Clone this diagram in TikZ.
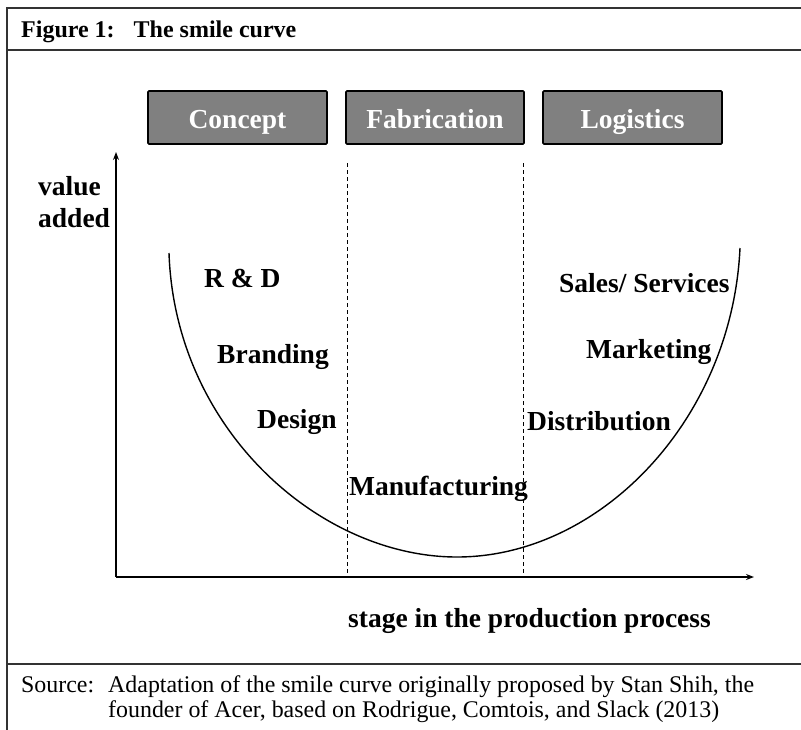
\documentclass[tikz,border=0pt]{standalone}
\usepackage{fontspec}
\setmainfont{Liberation Serif}
\usetikzlibrary{arrows.meta}
\begin{document}
\begin{tikzpicture}[x=1pt,y=-1pt,
  frameline/.style={draw=black!80,line width=1.2pt},
  stagebox/.style={draw=black,line width=1.6pt,fill=black!50,rounded corners=1pt},
  boxtext/.style={text=white,font=\fontsize{27.5}{30}\selectfont\bfseries,inner sep=0pt,anchor=base},
  lbl/.style={font=\fontsize{27.5}{30}\selectfont\bfseries,inner sep=0pt,anchor=base west},
  src/.style={font=\fontsize{23.9}{26}\selectfont,inner sep=0pt,anchor=base west},
  axisline/.style={line width=1.4pt,-{Stealth[length=8pt,width=6pt]}},
  divider/.style={dashed,dash pattern=on 4pt off 3pt,line width=0.8pt},
  smile/.style={line width=1.4pt}]
\useasboundingbox (0,0) rectangle (801,729);
% frame
\coordinate (ftl) at (7,8);
\coordinate (ftr) at (805,8);
\coordinate (fbl) at (7,733);
\coordinate (h1l) at (7,50);
\coordinate (h1r) at (805,50);
\coordinate (s1l) at (7,664);
\coordinate (s1r) at (805,664);
\draw[frameline] (ftr) -- (ftl) -- (fbl);
\draw[frameline] (h1l) -- (h1r);
\draw[frameline] (s1l) -- (s1r);
\node[lbl,font=\fontsize{24}{26}\selectfont\bfseries] (title) at (21,37) {Figure 1:\hspace{19pt}The smile curve};
% boxes
\draw[stagebox] (148,91) rectangle (327,144);
\draw[stagebox] (346,91) rectangle (524,144);
\draw[stagebox] (543,91) rectangle (722,144);
\node[boxtext] (concept) at (237.5,128) {Concept};
\node[boxtext] (fabrication) at (435,128) {Fabrication};
\node[boxtext] (logistics) at (632.5,128) {Logistics};
% axes
\coordinate (origin) at (116,577);
\coordinate (ytip) at (116,152);
\coordinate (xtip) at (754,577);
\draw[axisline] (origin) -- (ytip);
\draw[axisline] (origin) -- (xtip);
% dividers
\coordinate (d1t) at (347,163);
\coordinate (d1b) at (347,573);
\coordinate (d2t) at (523,163);
\coordinate (d2b) at (523,573);
\draw[divider] (d1t) -- (d1b);
\draw[divider] (d2t) -- (d2b);
% smile curve
\coordinate (cs) at (169,253);
\coordinate (cm) at (457,557);
\coordinate (ce) at (740,248);
\draw[smile] (cs) .. controls (175,430) and (320,557) .. (cm)
  .. controls (600,557) and (732,420) .. (ce);
% labels
\node[lbl] (yl1) at (38,195) {value};
\node[lbl] (yl2) at (38,227) {added};
\node[lbl] (rd) at (204,287) {R \& D};
\node[lbl] (brand) at (217,363) {Branding};
\node[lbl] (design) at (257,428) {Design};
\node[lbl] (manu) at (349,495) {Manufacturing};
\node[lbl] (dist) at (527,430) {Distribution};
\node[lbl] (mark) at (586,358) {Marketing};
\node[lbl] (sales) at (559,292) {Sales/ Services};
\node[lbl] (xl) at (348,627) {stage in the production process};
% source
\node[src] (srclab) at (21,692) {Source:};
\node[src] (src1) at (108,692) {Adaptation of the smile curve originally proposed by Stan Shih, the};
\node[src] (src2) at (108,717) {founder of Acer, based on Rodrigue, Comtois, and Slack (2013)};
\end{tikzpicture}
\end{document}
